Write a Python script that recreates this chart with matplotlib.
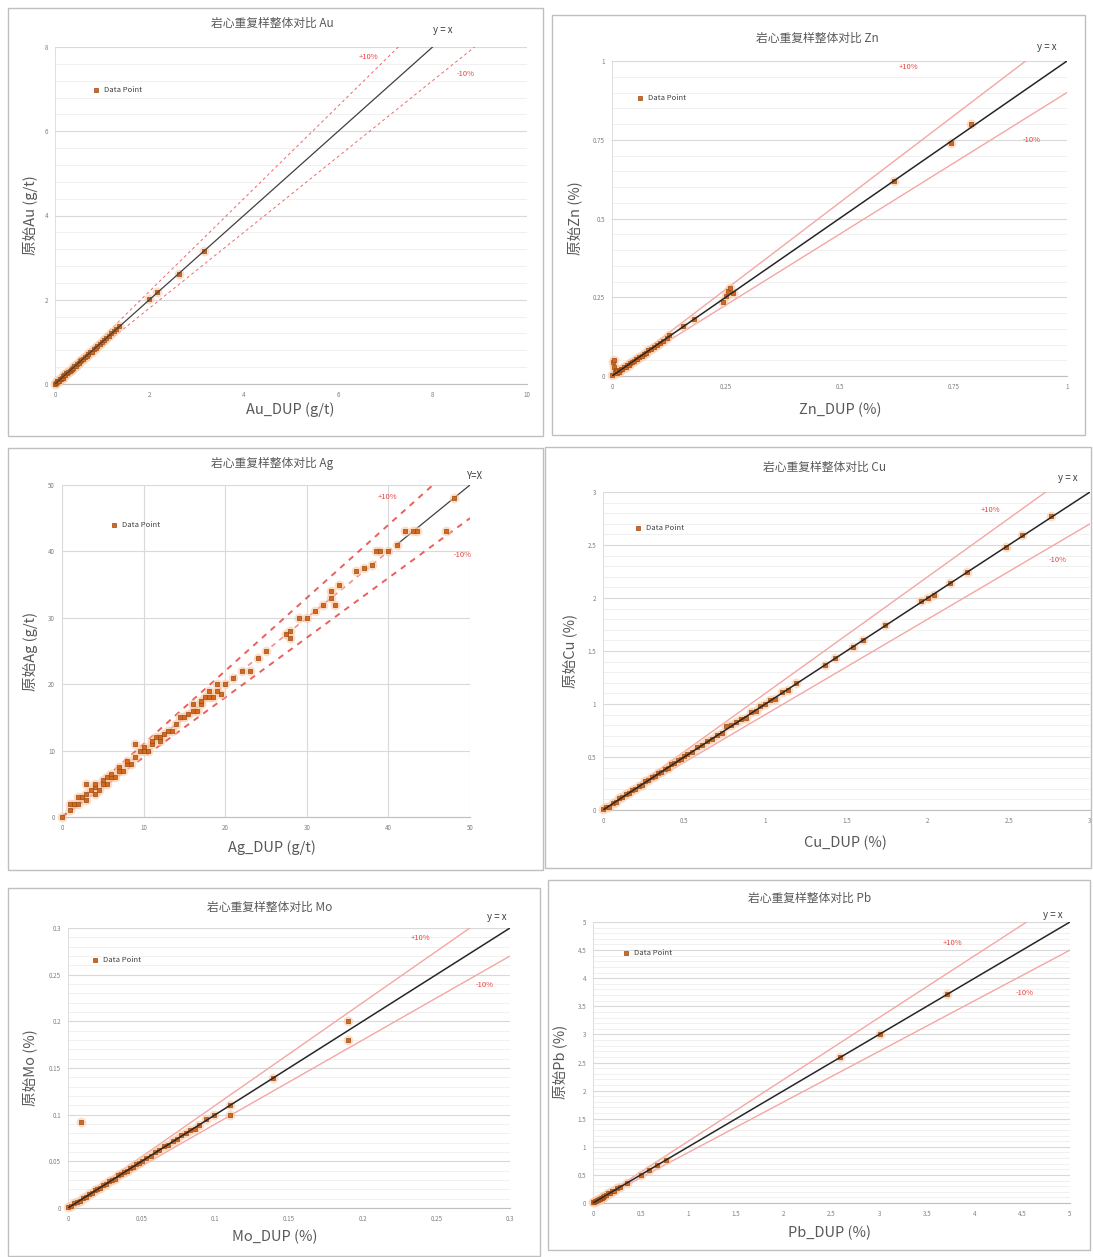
import matplotlib
matplotlib.use("Agg")
import matplotlib.pyplot as plt
from matplotlib.patches import Rectangle
from matplotlib.ticker import MultipleLocator, FuncFormatter
import numpy as np

plt.rcParams['font.family'] = ['Noto Sans CJK SC', 'DejaVu Sans']

# ---------------- data ----------------
au_dup = [0.00,0.02,0.04,0.05,0.07,0.09,0.10,0.12,0.14,0.16,0.18,0.20,0.22,0.24,0.26,0.28,0.31,0.33,0.36,0.38,
          0.41,0.44,0.47,0.50,0.53,0.56,0.60,0.63,0.67,0.70,0.74,0.78,0.82,0.86,0.90,0.95,1.00,1.04,1.09,1.14,
          1.19,1.24,1.30,1.35,2.00,2.17,2.62,3.15]
au_orig = [0.01,0.03,0.04,0.06,0.08,0.08,0.11,0.12,0.15,0.15,0.19,0.21,0.22,0.25,0.26,0.29,0.30,0.34,0.35,0.39,
           0.42,0.43,0.48,0.50,0.54,0.57,0.59,0.64,0.66,0.71,0.75,0.77,0.83,0.85,0.91,0.96,0.99,1.05,1.10,1.13,
           1.20,1.25,1.31,1.37,2.01,2.18,2.62,3.16]

zn_dup = [0.000,0.002,0.004,0.005,0.006,0.008,0.010,0.012,0.015,0.018,0.020,0.023,0.026,0.030,0.033,0.037,
          0.040,0.044,0.048,0.052,0.056,0.060,0.065,0.070,0.075,0.080,0.086,0.092,0.098,0.105,0.112,0.120,
          0.125,0.155,0.180,0.245,0.250,0.255,0.260,0.265,0.620,0.745,0.790]
zn_orig = [0.003,0.045,0.030,0.050,0.012,0.020,0.008,0.015,0.014,0.020,0.022,0.022,0.027,0.029,0.035,0.036,
           0.041,0.045,0.047,0.053,0.055,0.061,0.064,0.071,0.074,0.081,0.085,0.093,0.097,0.106,0.110,0.122,
           0.130,0.160,0.182,0.235,0.255,0.270,0.280,0.262,0.620,0.740,0.800]

ag_dup = [0,1,1,1.5,2,2,2.5,3,3,3,3.5,4,4,4,4.5,5,5,5.5,5.5,6,6,6.5,7,7,7.5,8,8,8.5,9,9,9.5,10,10,10.5,11,
          11,11.5,12,12,12.5,13,13.5,14,14.5,15,15.5,16,16,16.5,17,17,17.5,18,18,18.5,19,19,19.5,20,21,22,23,
          24,25,27.5,28,28,29,30,31,32,33,33,33.5,34,36,37,38,38.5,39,40,41,42,43,43.5,47,48]
ag_orig = [0,1,2,2,2,3,3,2.5,3.5,5,4,3.5,4.5,5,4,5,5.5,5,6,6,6.5,6,7,7.5,7,8,8.5,8,9,11,10,10,10.5,10,11,
           11.5,12,11.5,12,12.5,13,13,14,15,15,15.5,16,17,16,17,17.5,18,18,19,18,19,20,18.5,20,21,22,22,
           24,25,27.5,28,27,30,30,31,32,33,34,32,35,37,37.5,38,40,40,40,41,43,43,43,43,48]

cu_dup = [0.00,0.02,0.04,0.06,0.08,0.10,0.12,0.14,0.16,0.18,0.20,0.22,0.24,0.26,0.28,0.30,0.32,0.34,0.36,0.38,
          0.40,0.42,0.44,0.46,0.48,0.50,0.52,0.55,0.58,0.61,0.64,0.67,0.70,0.73,0.76,0.79,0.82,0.85,0.88,0.91,
          0.94,0.97,1.00,1.03,1.06,1.10,1.14,1.19,1.37,1.43,1.54,1.60,1.74,1.96,2.00,2.04,2.14,2.24,2.48,2.58,2.76]
cu_orig = [0.01,0.03,0.03,0.07,0.08,0.11,0.12,0.15,0.16,0.19,0.20,0.23,0.24,0.27,0.28,0.31,0.32,0.35,0.36,0.39,
           0.40,0.43,0.44,0.47,0.48,0.51,0.53,0.55,0.59,0.61,0.65,0.67,0.71,0.73,0.79,0.80,0.83,0.86,0.87,0.92,
           0.93,0.98,1.00,1.04,1.05,1.11,1.13,1.20,1.37,1.43,1.54,1.60,1.75,1.97,2.00,2.03,2.14,2.25,2.48,2.59,2.77]

mo_dup = [0.000,0.002,0.004,0.006,0.008,0.009,0.010,0.012,0.014,0.016,0.018,0.020,0.022,0.024,0.026,0.028,
          0.030,0.032,0.034,0.036,0.038,0.040,0.042,0.044,0.046,0.048,0.050,0.053,0.056,0.059,0.062,0.065,
          0.068,0.071,0.074,0.077,0.080,0.083,0.086,0.089,0.094,0.099,0.110,0.110,0.139,0.190,0.190]
mo_orig = [0.001,0.002,0.005,0.006,0.007,0.092,0.011,0.012,0.015,0.016,0.019,0.020,0.021,0.025,0.026,0.029,
           0.030,0.031,0.035,0.036,0.039,0.040,0.043,0.044,0.047,0.048,0.050,0.054,0.056,0.060,0.062,0.066,
           0.068,0.072,0.074,0.078,0.080,0.084,0.085,0.089,0.095,0.100,0.110,0.100,0.139,0.200,0.180]

pb_dup = [0.00,0.01,0.02,0.03,0.04,0.05,0.06,0.07,0.08,0.09,0.10,0.11,0.12,0.14,0.16,0.18,0.20,0.22,0.25,0.28,
          0.36,0.50,0.59,0.67,0.77,2.59,3.01,3.71]
pb_orig = [0.01,0.01,0.03,0.03,0.05,0.05,0.07,0.07,0.09,0.09,0.11,0.11,0.13,0.14,0.17,0.18,0.21,0.22,0.26,0.28,
           0.36,0.50,0.58,0.67,0.77,2.60,3.00,3.71]

elements = ['Au', 'Zn', 'Ag', 'Cu', 'Mo', 'Pb']
units = {'Au': 'g/t', 'Zn': '%', 'Ag': 'g/t', 'Cu': '%', 'Mo': '%', 'Pb': '%'}
title_prefix = '岩心重复样整体对比 '
legend_label = 'Data Point'
plus_label = '+10%'
minus_label = '-10%'

# ---------------- layout (pixels) ----------------
W, H = 1093, 1257
fig = plt.figure(figsize=(W / 100, H / 100), dpi=100)
fig.patch.set_facecolor('white')

TXT = '#595959'
TICK = '#7F7F7F'
RED = '#E8433F'
PINK = '#F3A7A4'
MK = '#D2691E'
MKE = '#9A4A15'
GLOW = '#F8C9A5'


def fx(x):
    return x / W


def fy(y):
    return 1 - y / H


panels = {
    'Au': dict(data=(au_dup, au_orig), box=(55, 47, 527, 384), xlim=10, ylim=8, major=2, minor=0.4,
               border=(8, 8, 543, 436), title=(272, 23), ylab=(30, 215), xlab=(290, 410),
               yx=(443, 30), yxtxt='y = x', plus=(368, 57), minus=(466, 74), leg=(98, 90),
               style='dash', vgrid=False),
    'Zn': dict(data=(zn_dup, zn_orig), box=(612, 61, 1067, 376), xlim=1, ylim=1, major=0.25, minor=0.05,
               border=(552, 15, 1085, 435), title=(817, 38), ylab=(575, 218), xlab=(840, 410),
               yx=(1047, 47), yxtxt='y = x', plus=(908, 67), minus=(1032, 140), leg=(642, 98),
               style='solid', vgrid=False),
    'Ag': dict(data=(ag_dup, ag_orig), box=(62, 485, 470, 817), xlim=50, ylim=50, major=10, minor=None,
               border=(8, 448, 543, 870), title=(272, 463), ylab=(30, 651), xlab=(272, 848),
               yx=(474, 476), yxtxt='Y=X', plus=(387, 497), minus=(463, 555), leg=(116, 525),
               style='thickdash', vgrid=True),
    'Cu': dict(data=(cu_dup, cu_orig), box=(603, 492, 1090, 810), xlim=3, ylim=3, major=0.5, minor=0.1,
               border=(545, 447, 1091, 868), title=(825, 467), ylab=(570, 651), xlab=(845, 843),
               yx=(1068, 478), yxtxt='y = x', plus=(990, 510), minus=(1058, 560), leg=(640, 528),
               style='solid', vgrid=False),
    'Mo': dict(data=(mo_dup, mo_orig), box=(68, 928, 510, 1208), xlim=0.3, ylim=0.3, major=0.05, minor=0.01,
               border=(8, 888, 540, 1256), title=(270, 907), ylab=(30, 1068), xlab=(275, 1237),
               yx=(497, 917), yxtxt='y = x', plus=(420, 938), minus=(485, 985), leg=(97, 960),
               style='solid', vgrid=False),
    'Pb': dict(data=(pb_dup, pb_orig), box=(593, 922, 1070, 1203), xlim=5, ylim=5, major=0.5, minor=0.1,
               border=(548, 880, 1090, 1250), title=(810, 898), ylab=(560, 1062), xlab=(830, 1233),
               yx=(1053, 915), yxtxt='y = x', plus=(952, 943), minus=(1025, 993), leg=(628, 953),
               style='solid', vgrid=False),
}

fmt = FuncFormatter(lambda v, p: ('%g' % round(v, 6)))

for el in elements:
    P = panels[el]
    dup, orig = P['data']
    l, t, r, b = P['box']
    ax = fig.add_axes([fx(l), fy(b), fx(r - l), (b - t) / H])
    xmax, ymax = P['xlim'], P['ylim']
    ax.set_xlim(0, xmax)
    ax.set_ylim(0, ymax)
    ax.set_facecolor('white')
    for s in ['top', 'right']:
        ax.spines[s].set_visible(False)
    ax.spines['bottom'].set_color('#BFBFBF')
    ax.spines['bottom'].set_linewidth(0.8)
    ax.spines['left'].set_color('#D9D9D9')
    ax.spines['left'].set_linewidth(0.6)

    ax.xaxis.set_major_locator(MultipleLocator(P['major'] if el != 'Au' else 2))
    ax.yaxis.set_major_locator(MultipleLocator(P['major']))
    ax.xaxis.set_major_formatter(fmt)
    ax.yaxis.set_major_formatter(fmt)
    ax.tick_params(length=0, labelsize=4.5, labelcolor=TICK, pad=5)
    ax.grid(True, axis='y', which='major', color='#D9D9D9', lw=0.8)
    if P['vgrid']:
        ax.grid(True, axis='x', which='major', color='#D9D9D9', lw=0.8)
    if P['minor']:
        ax.yaxis.set_minor_locator(MultipleLocator(P['minor']))
        ax.tick_params(which='minor', length=0)
        ax.grid(True, axis='y', which='minor', color='#EEEEEE', lw=0.6)
    ax.set_axisbelow(True)

    xs = np.array([0, xmax])
    if P['style'] == 'dash':
        ax.plot(xs, 1.1 * xs, color=RED, lw=0.7, ls=(0, (3, 3)), alpha=0.8, zorder=2)
        ax.plot(xs, 0.9 * xs, color=RED, lw=0.7, ls=(0, (3, 3)), alpha=0.8, zorder=2)
        ax.plot([0, ymax], [0, ymax], color='#404040', lw=0.9, zorder=5)
    elif P['style'] == 'thickdash':
        ax.plot(xs, 1.1 * xs, color=RED, lw=1.4, ls=(0, (3, 3)), alpha=0.85, zorder=2)
        ax.plot(xs, 0.9 * xs, color=RED, lw=1.4, ls=(0, (3, 3)), alpha=0.85, zorder=2)
        ax.plot([0, 41], [0, 41], color=RED, lw=1.2, ls=(0, (3, 3)), alpha=0.6, zorder=2)
        ax.plot([41, xmax], [41, xmax], color='#404040', lw=0.9, zorder=2)
    else:
        ax.plot(xs, 1.1 * xs, color=PINK, lw=1.0, zorder=2)
        ax.plot(xs, 0.9 * xs, color=PINK, lw=1.0, zorder=2)
        ax.plot(xs, xs, color='#262626', lw=1.1, zorder=5)

    ax.scatter(dup, orig, s=50, marker='o', color=GLOW, alpha=0.6, lw=0, zorder=3, clip_on=False)
    sc = ax.scatter(dup, orig, s=9, marker='s', facecolor=MK, edgecolor=MKE, lw=0.5, zorder=4,
                    clip_on=False, label=legend_label)

    # legend
    lx, ly = P['leg']
    ax.legend(handles=[sc], loc='center left',
              bbox_to_anchor=((lx - 6 - l) / (r - l), 1 - (ly - t) / (b - t)),
              frameon=False, fontsize=5.5, handlelength=1.0, handletextpad=0.6,
              borderpad=0, borderaxespad=0, labelcolor='#404040')

    # texts
    unit = units[el]
    fig.text(fx(P['title'][0]), fy(P['title'][1]), title_prefix + el, ha='center', va='center',
             fontsize=8.5, color=TXT)
    fig.text(fx(P['ylab'][0]), fy(P['ylab'][1]), '原始' + el + ' (' + unit + ')', ha='center',
             va='center', rotation=90, fontsize=10.5, color=TXT)
    fig.text(fx(P['xlab'][0]), fy(P['xlab'][1]), el + '_DUP (' + unit + ')', ha='center', va='center',
             fontsize=10.5, color=TXT)
    fig.text(fx(P['yx'][0]), fy(P['yx'][1]), P['yxtxt'], ha='center', va='center', fontsize=7,
             color='#404040')
    fig.text(fx(P['plus'][0]), fy(P['plus'][1]), plus_label, ha='center', va='center', fontsize=5.5,
             color=RED)
    fig.text(fx(P['minus'][0]), fy(P['minus'][1]), minus_label, ha='center', va='center', fontsize=5.5,
             color=RED)

    bl, bt, br, bb = P['border']
    fig.add_artist(Rectangle((fx(bl), fy(bb)), (br - bl) / W, (bb - bt) / H, transform=fig.transFigure,
                             fill=False, ec='#BFBFBF', lw=1.0))

fig.savefig('out.png', dpi=100, facecolor='white')
